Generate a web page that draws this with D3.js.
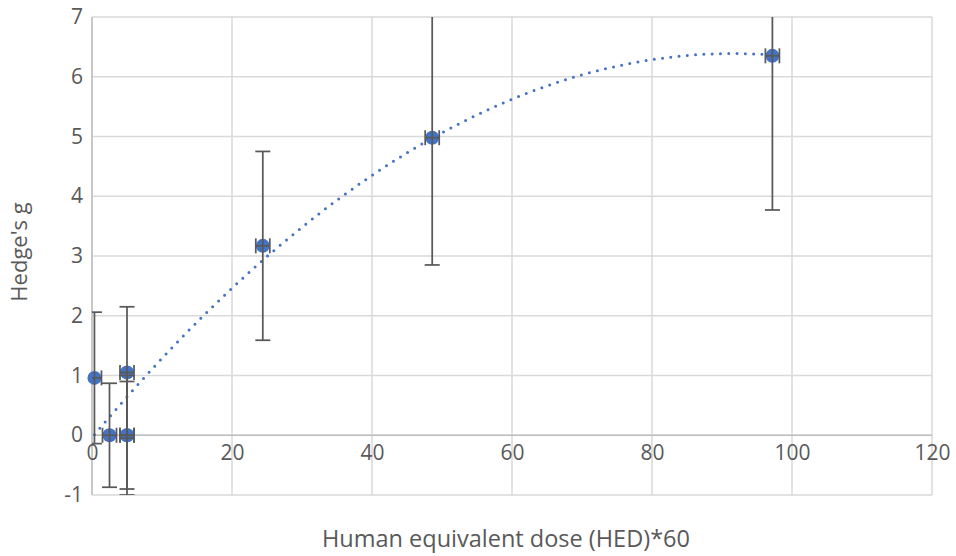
<!DOCTYPE html>
<html>
<head>
<meta charset="utf-8">
<script src="https://cdn.jsdelivr.net/npm/d3@7"></script>
<style>
  html, body { margin: 0; padding: 0; background: #fff; }
  svg { display: block; }
  text { font-family: "Open Sans", "Noto Sans", sans-serif; fill: #595959; }
</style>
</head>
<body>
<svg id="chart" width="956" height="556"></svg>
<script>
// Dose (HED*60) and effect size for each study group
const doses = [0.35, 2.5, 5, 5, 5, 24.4, 48.6, 97.2];
const hedgesG = [0.96, 0, 0, 0, 1.05, 3.17, 4.98, 6.35];
const gError = [1.1, 0.87, 0.9, 1.0, 1.1, 1.58, 2.13, 2.58];
const doseError = [1, 1, 1, 1, 1, 1, 1, 1];

const xTicks = [0, 20, 40, 60, 80, 100, 120];
const yTicks = [-1, 0, 1, 2, 3, 4, 5, 6, 7];

const xTitle = "Human equivalent dose (HED)*60";
const yTitle = "Hedge's g";

const svg = d3.select("#chart");
const plot = { left: 92, right: 932, top: 17, bottom: 495 };

const x = d3.scaleLinear().domain([0, 120]).range([plot.left, plot.right]);
const y = d3.scaleLinear().domain([-1, 7]).range([plot.bottom, plot.top]);

svg.append("defs").append("clipPath").attr("id", "plot-clip")
  .append("rect")
  .attr("x", plot.left).attr("y", plot.top)
  .attr("width", plot.right - plot.left).attr("height", plot.bottom - plot.top);

// Gridlines
const grid = svg.append("g");
grid.selectAll("line.h").data(yTicks).join("line")
  .attr("x1", plot.left).attr("x2", plot.right)
  .attr("y1", d => y(d)).attr("y2", d => y(d))
  .attr("stroke", "#d9d9d9").attr("stroke-width", 1.5);
grid.selectAll("line.v").data(xTicks).join("line")
  .attr("y1", plot.top).attr("y2", plot.bottom)
  .attr("x1", d => x(d)).attr("x2", d => x(d))
  .attr("stroke", "#d9d9d9").attr("stroke-width", 1.5);

// Axis lines: vertical at x = 0, horizontal at y = 0
svg.append("line")
  .attr("x1", x(0)).attr("x2", x(0)).attr("y1", plot.top).attr("y2", plot.bottom)
  .attr("stroke", "#bfbfbf").attr("stroke-width", 1.5);
svg.append("line")
  .attr("x1", plot.left).attr("x2", plot.right).attr("y1", y(0)).attr("y2", y(0))
  .attr("stroke", "#bfbfbf").attr("stroke-width", 1.5);

// Axes (labels only)
const xAxis = d3.axisBottom(x).tickValues(xTicks).tickSize(0).tickPadding(0).tickFormat(d => String(d));
const gx = svg.append("g").attr("transform", `translate(0,${y(0) + 10})`).call(xAxis);
gx.select(".domain").remove();
gx.selectAll("text").attr("dy", "0.71em").style("font-size", "21px").attr("fill", "#595959");

const yAxis = d3.axisLeft(y).tickValues(yTicks).tickSize(0).tickPadding(9).tickFormat(d => String(d));
const gy = svg.append("g").attr("transform", `translate(${plot.left},0)`).call(yAxis);
gy.select(".domain").remove();
gy.selectAll("text").style("font-size", "21px").attr("fill", "#595959");

// Second-order polynomial trendline (least squares)
function polyFit2(xs, ys) {
  const n = xs.length;
  let s = [0, 0, 0, 0, 0], t = [0, 0, 0];
  for (let i = 0; i < n; i++) {
    const xi = xs[i], yi = ys[i];
    for (let k = 0; k <= 4; k++) s[k] += Math.pow(xi, k);
    for (let k = 0; k <= 2; k++) t[k] += yi * Math.pow(xi, k);
  }
  const A = [[s[0], s[1], s[2], t[0]], [s[1], s[2], s[3], t[1]], [s[2], s[3], s[4], t[2]]];
  for (let c = 0; c < 3; c++) {
    let p = c;
    for (let r = c + 1; r < 3; r++) if (Math.abs(A[r][c]) > Math.abs(A[p][c])) p = r;
    [A[c], A[p]] = [A[p], A[c]];
    for (let r = 0; r < 3; r++) {
      if (r === c) continue;
      const f = A[r][c] / A[c][c];
      for (let k = c; k < 4; k++) A[r][k] -= f * A[c][k];
    }
  }
  return [A[0][3] / A[0][0], A[1][3] / A[1][1], A[2][3] / A[2][2]];
}
const coef = polyFit2(doses, hedgesG);
const [xMin, xMax] = d3.extent(doses);
const trendPts = d3.range(0, 201).map(i => {
  const xv = xMin + (xMax - xMin) * i / 200;
  return [xv, coef[0] + coef[1] * xv + coef[2] * xv * xv];
});
svg.append("path")
  .attr("d", d3.line().x(d => x(d[0])).y(d => y(d[1]))(trendPts))
  .attr("fill", "none").attr("stroke", "#4472c4").attr("stroke-width", 3)
  .attr("stroke-linecap", "round").attr("stroke-dasharray", "0 8.3")
  .attr("clip-path", "url(#plot-clip)");

const pts = doses.map((d, i) => ({ x: d, y: hedgesG[i], ey: gError[i], ex: doseError[i] }));

// Markers
svg.append("g").selectAll("circle").data(pts).join("circle")
  .attr("cx", d => x(d.x)).attr("cy", d => y(d.y)).attr("r", 7)
  .attr("fill", "#4472c4");

// Error bars
const eb = svg.append("g").attr("clip-path", "url(#plot-clip)")
  .attr("stroke", "#595959").attr("stroke-width", 1.75).attr("fill", "none");
const cap = 7.5;
pts.forEach(d => {
  const cx = x(d.x), cy = y(d.y);
  const yT = y(d.y + d.ey), yB = y(d.y - d.ey);
  eb.append("line").attr("x1", cx).attr("x2", cx).attr("y1", yT).attr("y2", yB);
  eb.append("line").attr("x1", cx - cap).attr("x2", cx + cap).attr("y1", yT).attr("y2", yT);
  eb.append("line").attr("x1", cx - cap).attr("x2", cx + cap).attr("y1", yB).attr("y2", yB);
  const xL = x(d.x - d.ex), xR = x(d.x + d.ex);
  eb.append("line").attr("x1", xL).attr("x2", xR).attr("y1", cy).attr("y2", cy);
  eb.append("line").attr("x1", xL).attr("x2", xL).attr("y1", cy - cap).attr("y2", cy + cap);
  eb.append("line").attr("x1", xR).attr("x2", xR).attr("y1", cy - cap).attr("y2", cy + cap);
});

// Axis titles
svg.append("text")
  .attr("x", 506).attr("y", 541).attr("text-anchor", "middle")
  .attr("dominant-baseline", "middle")
  .style("font-size", "23.5px").text(xTitle);
svg.append("text")
  .attr("transform", `translate(21,${(plot.top + plot.bottom) / 2 - 4}) rotate(-90)`)
  .attr("text-anchor", "middle").attr("dominant-baseline", "middle")
  .style("font-size", "22px").text(yTitle);
</script>
</body>
</html>
